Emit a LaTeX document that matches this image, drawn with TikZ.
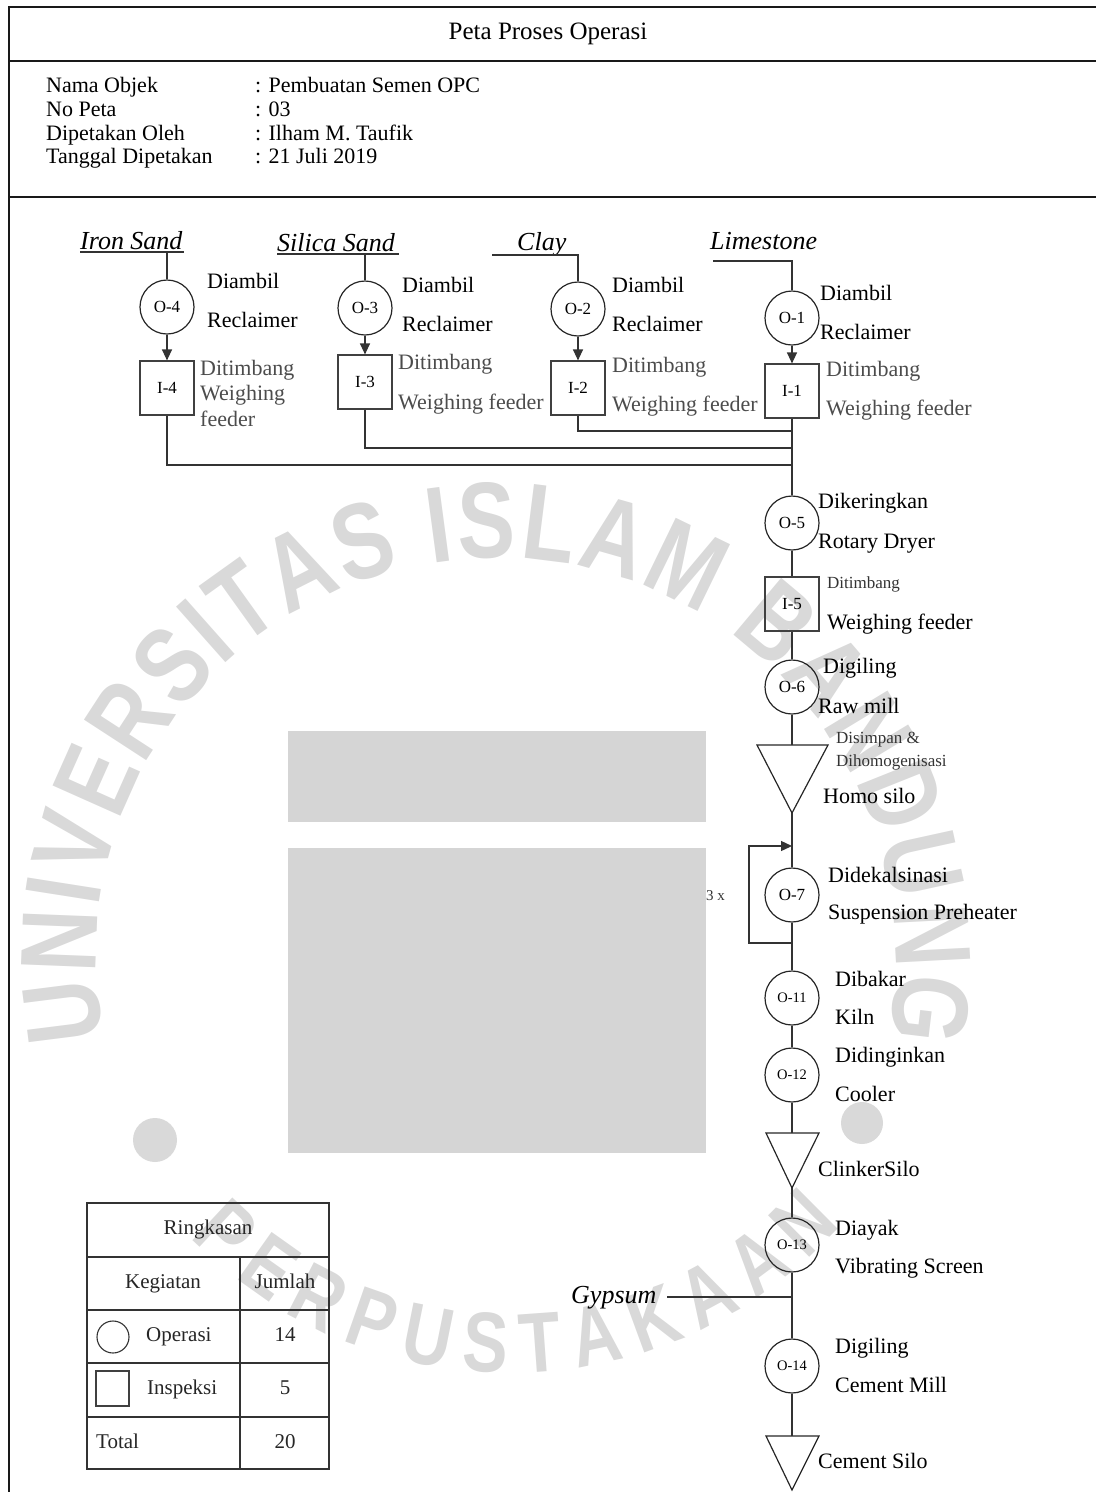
\documentclass[tikz,border=0pt]{standalone}
\usepackage{fontspec}
\setmainfont{Liberation Serif}
\newfontfamily\wmfont{Liberation Sans}[FakeStretch=0.8]
\usetikzlibrary{arrows.meta,decorations.text}
\newcommand\myfs[1]{\fontsize{#1}{#1}\selectfont}
\newcommand\wmA{\wmfont\bfseries\myfs{108}}
\newcommand\wmB{\wmfont\bfseries\myfs{85}}
\begin{document}
\begin{tikzpicture}[x=1pt,y=1pt,
 ln/.style={line width=1.3pt, draw=black!80},
 op/.style={circle, draw=black!85, line width=1.2pt, minimum size=54pt, inner sep=0pt, font=\myfs{17}},
 opsm/.style={op, font=\myfs{14.5}},
 insp/.style={rectangle, draw=black!75, line width=1.2pt, minimum width=54pt, minimum height=54pt, inner sep=0pt, font=\myfs{17}},
 lbl/.style={anchor=west, inner sep=0pt, font=\myfs{22}, text height=15pt, text depth=5pt},
 glbl/.style={lbl, text=black!70},
 slbl/.style={anchor=west, inner sep=0pt, font=\myfs{17}, text height=11.5pt, text depth=4pt, text=black!80},
 src/.style={anchor=west, inner sep=0pt, font=\myfs{26}\itshape, text height=18pt, text depth=6pt},
 hd/.style={anchor=west, inner sep=0pt, font=\myfs{22}, text height=15pt, text depth=5pt},
 tb/.style={inner sep=0pt, font=\myfs{21}, text height=14pt, text depth=5pt, text=black!85},
 arr/.style={ln, -{Triangle[length=11pt,width=10pt]}},
 frame/.style={line width=2.2pt, draw=black!90},
 silo/.style={line width=1.2pt, draw=black!85},
 wmcol/.style={fill=gray!30, draw=none}
]
\useasboundingbox (0,0) rectangle (1096,-1492);

% ---------- watermark ----------
\fill[gray!33] (288,-731) rectangle (706,-822);
\fill[gray!33] (288,-848) rectangle (706,-1153);
\fill[wmcol] (155,-1140) circle (22);
\fill[wmcol] (862,-1123) circle (21);
\path[decorate, decoration={text along path, text color=gray!30,
  text={|\wmA|UNIVERSITAS ISLAM BANDUNG}, text align=fit to path}]
  (496,-958) ++(191.6:400) arc[start angle=191.6, end angle=-11.6, radius=400];
\path[decorate, decoration={text along path, text color=gray!30,
  text={|\wmB|PERPUSTAKAAN}, text align=fit to path}]
  (510,-928) ++(224:445) arc[start angle=224, end angle=318, radius=445];

% ---------- frame ----------
\draw[frame] (9,-1492) -- (9,-7) -- (1096,-7);
\draw[frame] (9,-61) -- (1096,-61);
\draw[frame] (9,-197) -- (1096,-197);
\node[font=\myfs{25}, inner sep=0pt] (title) at (548,-34) {Peta Proses Operasi};
\node[hd] (h1) at (46,-87) {Nama Objek};
\node[hd] (h2) at (46,-111) {No Peta};
\node[hd] (h3) at (46,-135) {Dipetakan Oleh};
\node[hd] (h4) at (46,-158) {Tanggal Dipetakan};
\node[hd] (v1) at (255,-87) {: Pembuatan Semen OPC};
\node[hd] (v2) at (255,-111) {: 03};
\node[hd] (v3) at (255,-135) {: Ilham M. Taufik};
\node[hd] (v4) at (255,-158) {: 21 Juli 2019};

% ---------- sources ----------
\node[src] (tIron) at (80,-243) {Iron Sand};
\node[src] (tSilica) at (277,-245) {Silica Sand};
\node[src] (tClay) at (517,-244) {Clay};
\node[src] (tLime) at (710,-243) {Limestone};
\node[src] (tGyp) at (571,-1297) {Gypsum};

% ---------- operations / inspections ----------
\node[op] (O4) at (167,-307) {O-4};
\node[insp] (I4) at (167,-388) {I-4};
\node[op] (O3) at (365,-308) {O-3};
\node[insp] (I3) at (365,-382) {I-3};
\node[op] (O2) at (578,-309) {O-2};
\node[insp] (I2) at (578,-388) {I-2};
\node[op] (O1) at (792,-318) {O-1};
\node[insp] (I1) at (792,-391) {I-1};
\node[op] (O5) at (792,-523) {O-5};
\node[insp] (I5) at (792,-604) {I-5};
\node[op] (O6) at (792,-687) {O-6};
\node[op] (O7) at (792,-895) {O-7};
\node[opsm] (O11) at (792,-998) {O-11};
\node[opsm] (O12) at (792,-1075) {O-12};
\node[opsm] (O13) at (792,-1245) {O-13};
\node[opsm] (O14) at (792,-1366) {O-14};

% storage triangles
\coordinate (HSt) at (792,-745); \coordinate (HSa) at (792,-813);
\draw[silo] (757,-745) -- (828,-745) -- (HSa) -- cycle;
\coordinate (CKt) at (792,-1133); \coordinate (CKa) at (792,-1188);
\draw[silo] (766,-1133) -- (819,-1133) -- (CKa) -- cycle;
\coordinate (CMt) at (792,-1436); \coordinate (CMa) at (792,-1490);
\draw[silo] (766,-1436) -- (819,-1436) -- (CMa) -- cycle;

% ---------- source lines ----------
\coordinate (u4) at (167,-252);
\draw[ln] (80,-252) -- (184,-252);
\draw[ln] (u4) -- (O4);
\coordinate (u3) at (365,-254);
\draw[ln] (277,-254) -- (399,-254);
\draw[ln] (u3) -- (O3);
\coordinate (u2) at (492,-255);
\draw[ln] (u2) -| (O2);
\coordinate (u1) at (713,-261);
\draw[ln] (u1) -| (O1);

\draw[arr] (O4) -- (I4);
\draw[arr] (O3) -- (I3);
\draw[arr] (O2) -- (I2);
\draw[arr] (O1) -- (I1);

\coordinate (J2) at (792,-431);
\coordinate (J3) at (792,-448);
\coordinate (J4) at (792,-465);
\draw[ln] (I2.south) |- (J2);
\draw[ln] (I3.south) |- (J3);
\draw[ln] (I4.south) |- (J4);

% ---------- main chain ----------
\draw[ln] (I1) -- (O5);
\draw[ln] (O5) -- (I5);
\draw[ln] (I5) -- (O6);
\draw[ln] (O6) -- (HSt);
\draw[ln] (HSa) -- (O7);
\coordinate (LA) at (792,-846);
\coordinate (LB) at (792,-943);
\draw[arr] (LB) -- (749,-943) -- (749,-846) -- (LA);
\draw[ln] (O7) -- (O11);
\draw[ln] (O11) -- (O12);
\draw[ln] (O12) -- (CKt);
\draw[ln] (CKa) -- (O13);
\draw[ln] (O13) -- (O14);
\draw[ln] (O14) -- (CMt);
\coordinate (G1) at (667,-1297);
\coordinate (G2) at (792,-1297);
\draw[ln] (G1) -- (G2);

% ---------- labels ----------
\node[lbl] (l4a) at (207,-283) {Diambil};
\node[lbl] (l4b) at (207,-322) {Reclaimer};
\node[glbl] (l4c) at (200,-370) {Ditimbang};
\node[glbl] (l4d) at (200,-395) {Weighing};
\node[glbl] (l4e) at (200,-421) {feeder};
\node[lbl] (l3a) at (402,-287) {Diambil};
\node[lbl] (l3b) at (402,-326) {Reclaimer};
\node[glbl] (l3c) at (398,-364) {Ditimbang};
\node[glbl] (l3d) at (398,-404) {Weighing feeder};
\node[lbl] (l2a) at (612,-287) {Diambil};
\node[lbl] (l2b) at (612,-326) {Reclaimer};
\node[glbl] (l2c) at (612,-367) {Ditimbang};
\node[glbl] (l2d) at (612,-406) {Weighing feeder};
\node[lbl] (l1a) at (820,-295) {Diambil};
\node[lbl] (l1b) at (820,-334) {Reclaimer};
\node[glbl] (l1c) at (826,-371) {Ditimbang};
\node[glbl] (l1d) at (826,-410) {Weighing feeder};
\node[lbl] (l5a) at (818,-503) {Dikeringkan};
\node[lbl] (l5b) at (818,-543) {Rotary Dryer};
\node[slbl] (li5a) at (827,-585) {Ditimbang};
\node[lbl] (li5b) at (827,-624) {Weighing feeder};
\node[lbl] (l6a) at (823,-668) {Digiling};
\node[lbl] (l6b) at (818,-708) {Raw mill};
\node[slbl] (lha) at (836,-740) {Disimpan \&};
\node[slbl] (lhb) at (836,-763) {Dihomogenisasi};
\node[lbl] (lhc) at (823,-798) {Homo silo};
\node[lbl] (l7a) at (828,-877) {Didekalsinasi};
\node[lbl] (l7b) at (828,-914) {Suspension Preheater};
\node[slbl, font=\myfs{15}] (l3x) at (706,-897) {3 x};
\node[lbl] (l11a) at (835,-981) {Dibakar};
\node[lbl] (l11b) at (835,-1019) {Kiln};
\node[lbl] (l12a) at (835,-1057) {Didinginkan};
\node[lbl] (l12b) at (835,-1096) {Cooler};
\node[lbl] (lck) at (818,-1171) {ClinkerSilo};
\node[lbl] (l13a) at (835,-1230) {Diayak};
\node[lbl] (l13b) at (835,-1268) {Vibrating Screen};
\node[lbl] (l14a) at (835,-1348) {Digiling};
\node[lbl] (l14b) at (835,-1387) {Cement Mill};
\node[lbl] (lcm) at (818,-1463) {Cement Silo};

% ---------- summary table ----------
\draw[ln] (87,-1203) rectangle (329,-1469);
\draw[ln] (87,-1257) -- (329,-1257);
\draw[ln] (87,-1310) -- (329,-1310);
\draw[ln] (87,-1363) -- (329,-1363);
\draw[ln] (87,-1417) -- (329,-1417);
\draw[ln] (240,-1257) -- (240,-1469);
\node[tb] (tR) at (208,-1230) {Ringkasan};
\node[tb] (tK) at (163,-1284) {Kegiatan};
\node[tb] (tJ) at (285,-1284) {Jumlah};
\node[circle, draw=black!80, line width=1.1pt, minimum size=32pt, inner sep=0pt] (symO) at (113,-1337) {};
\node[tb, anchor=west] (tO) at (146,-1337) {Operasi};
\node[tb] (n14) at (285,-1337) {14};
\node[rectangle, draw=black!75, line width=1.1pt, minimum width=33pt, minimum height=35pt, inner sep=0pt] (symI) at (112.5,-1388.5) {};
\node[tb, anchor=west] (tI) at (147,-1390) {Inspeksi};
\node[tb] (n5) at (285,-1390) {5};
\node[tb, anchor=west] (tT) at (96,-1444) {Total};
\node[tb] (n20) at (285,-1444) {20};
\end{tikzpicture}
\end{document}
